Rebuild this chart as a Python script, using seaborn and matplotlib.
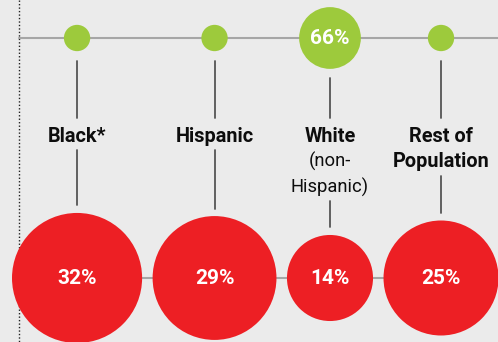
import numpy as np
import pandas as pd
import seaborn as sns
import matplotlib.pyplot as plt

# ---- data ----
categories = ["Black*", "Hispanic", "White", "Rest of\nPopulation"]
sublabels = ["", "", "(non-\nHispanic)", ""]
red_values = [32, 29, 14, 25]
red_labels = ["32%", "29%", "14%", "25%"]
green_values = [12, 12, 66, 12]          # small markers are unlabeled
green_labels = ["", "", "66%", ""]

# ---- styling ----
BG = "#ebebeb"
RED = "#ed1f24"
GREEN = "#9dca3c"
W, H, DPI = 498, 342, 100

sns.set_theme(style="white")
plt.rcParams["font.family"] = ["Roboto", "DejaVu Sans"]

fig = plt.figure(figsize=(W / DPI, H / DPI), dpi=DPI)
fig.patch.set_facecolor(BG)
ax = fig.add_axes([0, 0, 1, 1])
ax.set_facecolor(BG)

# radii (px), area proportional to value
k_red, k_green = 11.5, 3.8
r_red = k_red * np.sqrt(np.array(red_values, float))
r_green = k_green * np.sqrt(np.array(green_values, float))

# pack red circles left to right with a small gap
left, gap = 12, 10.5
xs = []
for i, r in enumerate(r_red):
    if i == 0:
        cx = left + r
    else:
        cx = xs[-1] + r_red[i - 1] + gap + r
    xs.append(cx)
xs = np.array(xs)

y_top, y_bot = 38, 278
px2pt = 72 / DPI

# decorative lines
ax.plot([19, 19], [0, H], color="#222222", lw=1, ls=(0, (1, 1.5)), zorder=1)
ax.plot([19, W], [y_top, y_top], color="#a6a6a6", lw=1.5, zorder=1)
ax.plot([xs[0], xs[-1]], [y_bot, y_bot], color="#a6a6a6", lw=1.5, zorder=1)

red_df = pd.DataFrame({"x": xs, "y": [y_bot] * 4, "v": red_values})
green_df = pd.DataFrame({"x": xs, "y": [y_top] * 4, "v": green_values})

red_sizes = {v: (2 * r * px2pt) ** 2 for v, r in zip(red_values, r_red)}
green_sizes = {v: (2 * r * px2pt) ** 2 for v, r in zip(green_values, r_green)}

sns.scatterplot(data=red_df, x="x", y="y", size="v", sizes=red_sizes,
                color=RED, linewidth=0, legend=False, ax=ax, zorder=3)
sns.scatterplot(data=green_df, x="x", y="y", size="v", sizes=green_sizes,
                color=GREEN, linewidth=0, legend=False, ax=ax, zorder=3)
ax.set_xlim(0, W)
ax.set_ylim(H, 0)
ax.axis("off")

# value labels
for x, t in zip(xs, red_labels):
    ax.text(x, y_bot + 1, t, ha="center", va="center", color="white",
            fontsize=15, fontweight="bold", zorder=4)
for x, t in zip(xs, green_labels):
    if t:
        ax.text(x, y_top + 1, t, ha="center", va="center", color="white",
                fontsize=15, fontweight="bold", zorder=4)

# category labels and connectors
line_h = 25.5
label_y0 = 136
for i, (x, cat, sub) in enumerate(zip(xs, categories, sublabels)):
    lines = [(s, "bold", 14.3) for s in cat.split("\n")]
    if sub:
        lines += [(s, "normal", 13.2) for s in sub.split("\n")]
    for j, (s, wt, fs) in enumerate(lines):
        ax.text(x, label_y0 + j * line_h, s, ha="center", va="center",
                fontsize=fs, fontweight=wt, color="#0d0d0d", zorder=4)
    last_y = label_y0 + (len(lines) - 1) * line_h
    ax.plot([x, x], [y_top + r_green[i] + 9.5, 118], color="#555555",
            lw=1.3, zorder=2)
    ax.plot([x, x], [last_y + 14, y_bot - r_red[i] - 7.5], color="#555555",
            lw=1.3, zorder=2)

fig.savefig("out.png", dpi=DPI, facecolor=BG)
